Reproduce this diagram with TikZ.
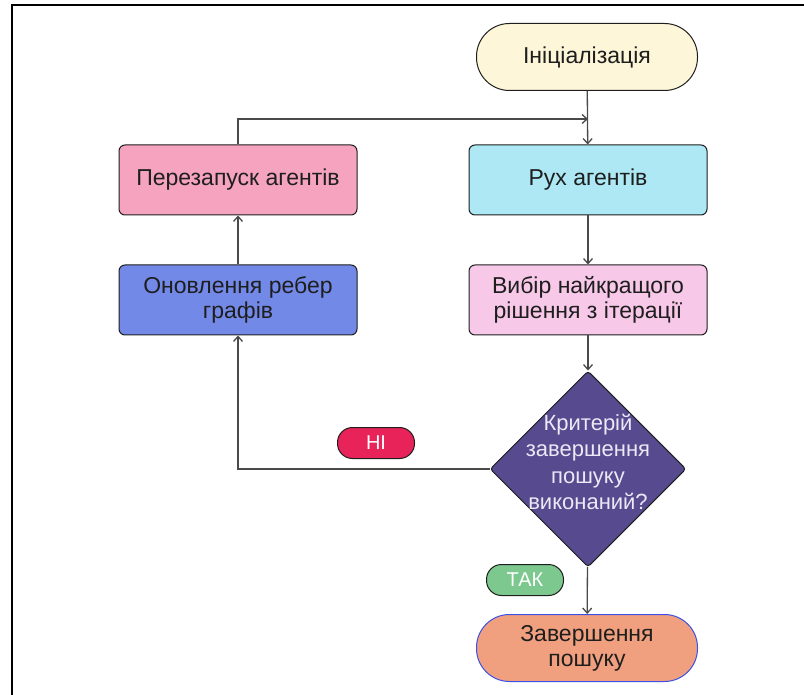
\documentclass[tikz,border=0pt]{standalone}
\usepackage{fontspec}
\setmainfont{Liberation Sans}
\usetikzlibrary{shapes.geometric,arrows.meta}

\definecolor{initfill}{HTML}{FDF6D8}
\definecolor{movefill}{HTML}{ADE8F4}
\definecolor{restartfill}{HTML}{F5A3BF}
\definecolor{updfill}{HTML}{7289E8}
\definecolor{bestfill}{HTML}{F7C8E8}
\definecolor{critfill}{HTML}{574A8F}
\definecolor{critfont}{HTML}{ECE8F6}
\definecolor{nofill}{HTML}{E8235A}
\definecolor{yesfill}{HTML}{7CC88E}
\definecolor{donefill}{HTML}{F0A07F}
\definecolor{doneline}{HTML}{3D4FE5}
\definecolor{edge}{HTML}{4A4A4A}
\definecolor{ink}{HTML}{1E1E1E}

\tikzset{
  stepbox/.style={draw=ink, line width=1pt, rounded corners=6pt,
    minimum width=238pt, minimum height=70pt, inner sep=0pt,
    align=center, text=ink, font=\fontsize{23}{25}\selectfont},
  terminal/.style={draw=ink, line width=1pt, rounded corners=33pt,
    minimum width=221pt, minimum height=67pt, inner sep=0pt,
    align=center, text=ink, font=\fontsize{23}{25}\selectfont},
  decision/.style={diamond, draw=ink, line width=1pt, rounded corners=3pt,
    fill=critfill, minimum width=196pt, minimum height=196pt, inner sep=0pt,
    aspect=1},
  decisiontext/.style={inner sep=0pt, align=center, text=critfont,
    font=\fontsize{22}{26.5}\selectfont},
  tag/.style={draw=ink, line width=1pt, rounded corners=15pt,
    minimum width=77pt, minimum height=31pt, inner sep=0pt,
    text=white, font=\fontsize{20}{24}\selectfont},
  flow/.style={draw=edge, line width=1.3pt, -{Straight Barb[length=5pt,width=9pt]}}
}

\begin{document}
\begin{tikzpicture}[x=1pt,y=-1pt]
  \useasboundingbox (0,0) rectangle (804,695);

  % page frame (top and left edges)
  \draw[line width=2pt] (12,695) -- (12,5) -- (804,5);

  % flowchart blocks
  \node[terminal, fill=initfill] (init) at (587,57) {Ініціалізація};
  \node[stepbox, fill=movefill] (move) at (588,180) {Рух агентів};
  \node[stepbox, fill=restartfill] (restart) at (238,180) {Перезапуск агентів};
  \node[stepbox, fill=updfill] (upd) at (238,300) {Оновлення ребер\\графів};
  \node[stepbox, fill=bestfill] (best) at (588,300) {Вибір найкращого\\рішення з ітерації};
  \node[decision] (crit) at (588,469) {};
  \node[decisiontext, yshift=7pt] (crittext) at (crit.center) {Критерій\\завершення\\пошуку\\виконаний?};
  \node[terminal, fill=donefill, draw=doneline] (done) at (587,648) {Завершення\\пошуку};

  % branch labels
  \node[tag, fill=nofill] (no) at (376,443) {НІ};
  \node[tag, fill=yesfill] (yes) at (525,580) {ТАК};

  % connectors
  \coordinate (join) at (588,119);
  \draw[flow] (init) -- (move);
  \draw[flow] (move) -- (best);
  \draw[flow] (best) -- (crit);
  \draw[flow] (crit) -- (done);
  \draw[flow] (crit.west) -| (upd.south);
  \draw[flow] (upd) -- (restart);
  \draw[flow] (restart.north) |- (join);
\end{tikzpicture}
\end{document}
